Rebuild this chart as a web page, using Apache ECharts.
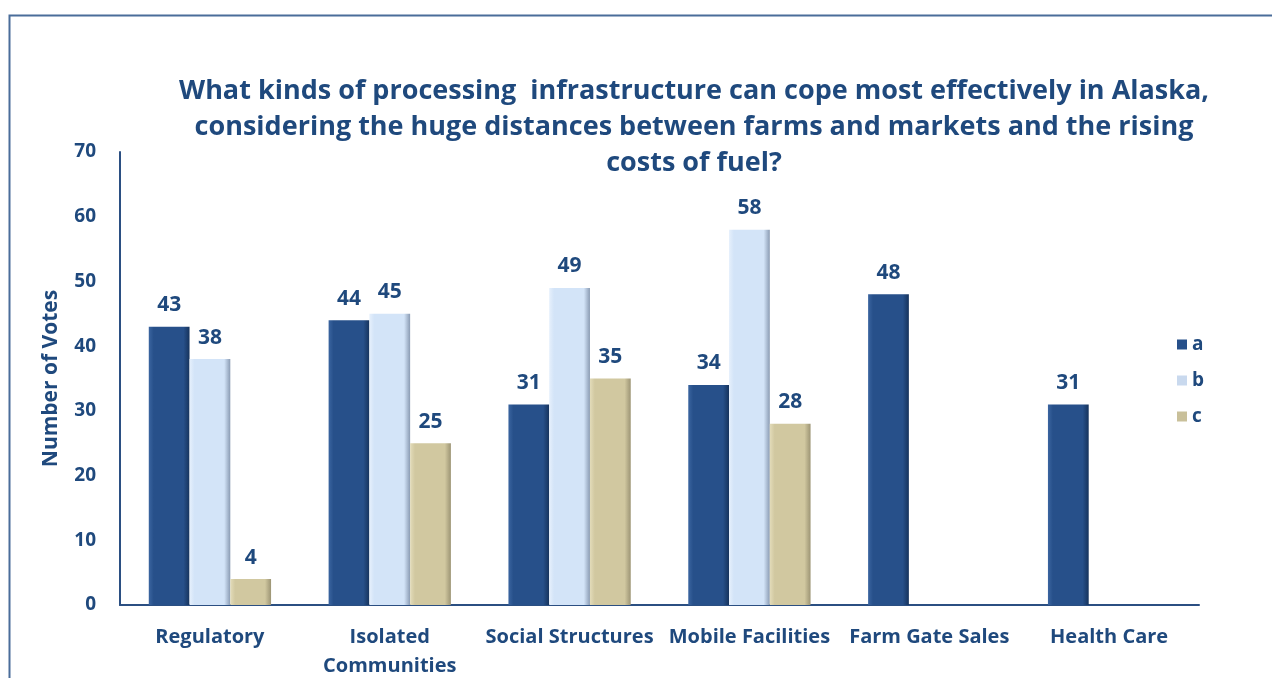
<!DOCTYPE html>
<html>
<head>
<meta charset="utf-8">
<script src="https://cdn.jsdelivr.net/npm/echarts@6/dist/echarts.min.js"></script>
<style>html,body{margin:0;padding:0;background:#fff;}#c{width:1272px;height:678px;}</style>
</head>
<body>
<div id="c"></div>
<script>
const categories = ['Regulatory', 'Isolated\nCommunities', 'Social Structures', 'Mobile Facilities', 'Farm Gate Sales', 'Health Care'];
const seriesA = [43, 44, 31, 34, 48, 31];
const seriesB = [38, 45, 49, 58, '-', '-'];
const seriesC = [4, 25, 35, 28, '-', '-'];
const seriesNames = ['a', 'b', 'c'];
const yTicks = { min: 0, max: 70, interval: 10 };

const FONT = '"Open Sans", Lato, sans-serif';
const BLUE = '#1F497D';

function grad(l, m, r) {
  return new echarts.graphic.LinearGradient(0, 0, 1, 0, [
    { offset: 0, color: l }, { offset: 0.12, color: m }, { offset: 0.85, color: m }, { offset: 1, color: r }
  ]);
}
const fills = [
  grad('#3b65a0', '#27508a', '#16335c'),
  grad('#e6f0fc', '#d3e4f8', '#8a9bb3'),
  grad('#e3dcba', '#d1c8a0', '#9c9474')
];
const legendColors = ['#27508a', '#c9d9ee', '#c9c09a'];

const chart = echarts.init(document.getElementById('c'));
const vals = [seriesA, seriesB, seriesC];
chart.setOption({
  backgroundColor: '#fff',
  title: {
    text: 'What kinds of processing  infrastructure can cope most effectively in Alaska,\nconsidering the huge distances between farms and markets and the rising\ncosts of fuel?',
    left: 689, top: 68, textAlign: 'center',
    textStyle: { fontFamily: FONT, fontWeight: 'bold', fontSize: 27, color: BLUE, lineHeight: 36 }
  },
  graphic: [{
    type: 'polyline', shape: { points: [[9.5, 678], [9.5, 15.5], [1272, 15.5]] },
    style: { stroke: '#4a6d9a', lineWidth: 2, fill: null }
  }],
  legend: {
    orient: 'vertical', left: 1172, top: 330, itemGap: 17, itemWidth: 10, itemHeight: 10,
    icon: 'rect',
    textStyle: { fontFamily: FONT, fontWeight: 'bold', fontSize: 19, color: BLUE },
    data: seriesNames.map((n, i) => ({ name: n, itemStyle: { color: legendColors[i] } }))
  },
  grid: { left: 120, right: 73, top: 152, bottom: 73, outerBoundsMode: 'none', containLabel: false },
  xAxis: {
    type: 'category', data: categories,
    axisLine: { lineStyle: { color: '#2b4f82', width: 2 } },
    axisTick: { show: false },
    axisLabel: { fontFamily: FONT, fontWeight: 'bold', fontSize: 20, color: BLUE, margin: 18, lineHeight: 29, interval: 0 }
  },
  yAxis: {
    type: 'value', min: yTicks.min, max: yTicks.max, interval: yTicks.interval,
    name: 'Number of Votes', nameLocation: 'middle', nameGap: 58,
    nameTextStyle: { fontFamily: FONT, fontWeight: 'bold', fontSize: 21, color: BLUE },
    axisLine: { show: true, lineStyle: { color: '#2b4f82', width: 2 } },
    axisTick: { show: false },
    splitLine: { show: false },
    axisLabel: { fontFamily: FONT, fontWeight: 'bold', fontSize: 19, color: BLUE, margin: 24 }
  },
  series: vals.map((v, i) => ({
    name: seriesNames[i], type: 'bar', data: v,
    barGap: '0%', barCategoryGap: '32%',
    itemStyle: { color: fills[i] },
    label: { show: true, position: 'top', distance: 11, fontFamily: FONT, fontWeight: 'bold', fontSize: 21, color: BLUE }
  }))
});
</script>
</body>
</html>
